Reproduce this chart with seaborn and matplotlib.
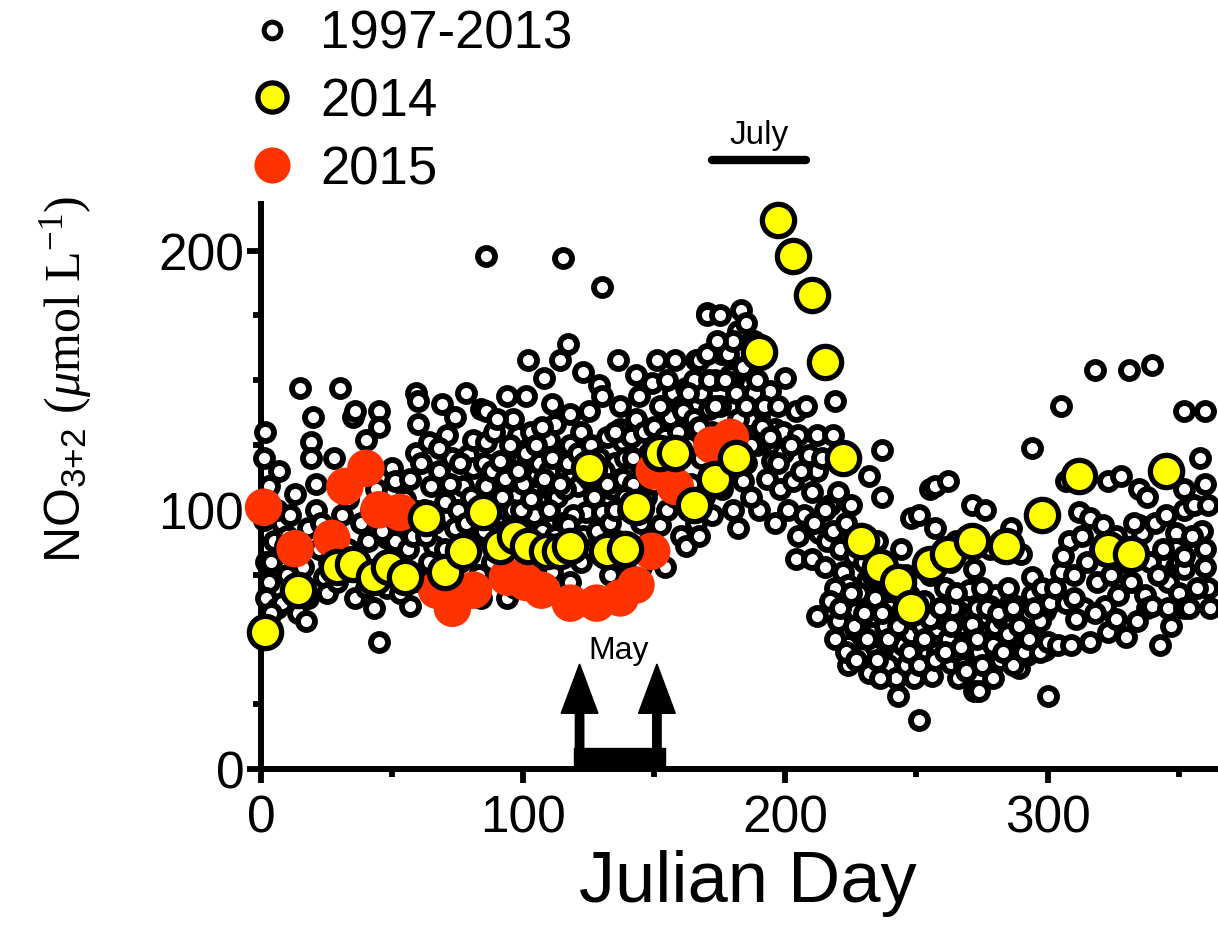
import matplotlib
matplotlib.use("Agg")
import matplotlib.pyplot as plt
import pandas as pd
import seaborn as sns
from matplotlib.lines import Line2D
from matplotlib.patches import FancyArrow, Rectangle
from matplotlib.ticker import MultipleLocator

# ---------------- data ----------------
hist_points = [
    # days 0-25
    (1, 120), (1.5, 130), (3, 109), (1, 96), (5, 88), (2, 80), (3, 72), (2, 66), (6, 62), (8, 95),
    (8, 64), (4, 80), (10, 90), (10, 75), (12, 70), (12, 82), (14, 60), (15, 147), (17, 57), (18, 93),
    (19, 126), (19, 120), (20, 136), (21, 110), (21, 100), (22, 85), (23, 95), (24, 74), (25, 68),
    (4, 60), (6, 100), (7, 115), (9, 86), (11, 98), (13, 106), (16, 78), (18, 66),
    # days 25-60
    (27, 91), (30, 147), (31, 98), (35, 136), (36, 138), (36, 66), (40, 127), (43, 62), (45, 138),
    (45, 132), (45, 49), (48, 89), (50, 116), (51, 111), (51, 88), (56, 85), (57, 112), (57, 63),
    (59, 145), (59, 122), (60, 142), (60, 133), (61, 118), (28, 120), (33, 104), (38, 95), (42, 100),
    (44, 108), (46, 92), (48, 70), (52, 75), (54, 95), (55, 104), (58, 90), (33, 85), (40, 70),
    (47, 80), (53, 68), (58, 100), (26, 80), (29, 72), (38, 78), (41, 88),
    # days 60-90
    (64, 126), (65, 109), (66, 86), (69, 141), (70, 103), (71, 129), (73, 120), (74, 136), (74, 93),
    (77, 109), (79, 121), (81, 127), (81, 116), (84, 139), (86, 198), (86, 138), (86, 126), (86, 109),
    (62, 100), (63, 90), (64, 80), (66, 95), (68, 115), (70, 85), (72, 70), (72, 110), (75, 100),
    (76, 80), (78, 95), (80, 105), (80, 88), (82, 98), (83, 75), (85, 118), (85, 92), (87, 100),
    (88, 80), (88, 115), (89, 130), (90, 95), (67, 68), (75, 64), (84, 66), (61, 72), (78, 145),
    (68, 124), (76, 118),
    # days 90-125
    (91, 119), (94, 144), (94, 66), (95, 111), (98, 129), (99, 120), (101, 144), (102, 158), (105, 113),
    (106, 118), (106, 103), (108, 151), (110, 127), (111, 141), (113, 105), (114, 158), (114, 121),
    (115, 197), (115, 95), (117, 164), (118, 137), (121, 109), (123, 153), (124, 99), (92, 105),
    (93, 92), (95, 125), (96, 100), (97, 80), (100, 110), (100, 95), (102, 88), (103, 130), (104, 98),
    (107, 92), (108, 80), (109, 110), (110, 100), (112, 90), (112, 133), (113, 115), (116, 108),
    (116, 88), (118, 125), (119, 98), (120, 118), (120, 90), (122, 130), (122, 80), (125, 138),
    (125, 112), (97, 70), (104, 72), (111, 76), (118, 72), (123, 90), (96, 135), (107, 132), (90, 135),
    (93, 112), (99, 100), (103, 104), (110, 115), (117, 94), (124, 120),
    (98, 115), (101, 122), (105, 125), (108, 112), (111, 120), (114, 110), (117, 118), (121, 122),
    # days 125-160
    (129, 148), (130, 144), (130, 186), (130, 99), (134, 108), (135, 118), (136, 158), (137, 140),
    (137, 131), (138, 126), (143, 152), (143, 135), (144, 144), (149, 149), (151, 158), (152, 94),
    (154, 78), (156, 136), (158, 158), (160, 90), (126, 125), (127, 105), (128, 92), (131, 115),
    (132, 128), (133, 95), (135, 100), (136, 88), (138, 112), (139, 120), (140, 100), (141, 128),
    (142, 110), (144, 118), (145, 95), (146, 130), (147, 105), (148, 122), (150, 132), (150, 110),
    (152, 140), (153, 120), (154, 128), (155, 100), (157, 145), (157, 115), (159, 130), (160, 140),
    (158, 105), (145, 78), (148, 88), (138, 80), (141, 70), (133, 75),
    (126, 115), (129, 120), (132, 110), (135, 130), (139, 105), (142, 120), (146, 115), (155, 150),
    # days 160-200
    (161, 138), (162, 147), (162, 86), (166, 158), (167, 158), (170, 176), (170, 175), (171, 139),
    (172, 98), (175, 175), (176, 160), (179, 152), (180, 140), (180, 100), (182, 169), (182, 93),
    (183, 177), (184, 111), (186, 148), (190, 136), (190, 100), (191, 126), (194, 146), (195, 119),
    (196, 131), (196, 95), (199, 122), (200, 151), (163, 125), (164, 110), (165, 135), (166, 95),
    (168, 120), (168, 145), (169, 105), (172, 130), (173, 150), (174, 118), (175, 140), (176, 108),
    (177, 130), (178, 160), (178, 122), (181, 145), (183, 130), (184, 155), (185, 118), (186, 135),
    (187, 105), (188, 145), (189, 125), (192, 140), (193, 112), (197, 140), (198, 108), (199, 130),
    (188, 165), (185, 172), (180, 165), (165, 150), (170, 160), (174, 165), (163, 100), (167, 90),
    (160, 122), (163, 145), (167, 132), (171, 150), (173, 140), (177, 150), (179, 128), (182, 135),
    (185, 140), (187, 125), (189, 150), (191, 132), (194, 128), (197, 118),
    # days 200-250
    (203, 111), (204, 138), (204, 81), (205, 129), (205, 90), (209, 121), (210, 107), (210, 81),
    (212, 129), (212, 115), (212, 59), (213, 91), (215, 78), (217, 102), (218, 129), (219, 142),
    (220, 107), (220, 57), (222, 76), (224, 71), (224, 48), (224, 40), (225, 102), (227, 61),
    (231, 73), (232, 113), (232, 37), (233, 59), (236, 48), (237, 123), (237, 105), (243, 44),
    (243, 28), (248, 97), (251, 19), (255, 108), (201, 100), (202, 125), (206, 115), (207, 98),
    (208, 140), (211, 95), (214, 120), (215, 100), (216, 88), (218, 92), (219, 70), (221, 85),
    (223, 95), (226, 82), (228, 68), (229, 52), (230, 80), (233, 45), (234, 66), (235, 88), (238, 55),
    (239, 40), (240, 62), (241, 50), (242, 35), (244, 58), (245, 48), (246, 40), (247, 67), (248, 52),
    (249, 35), (250, 45), (236, 35), (238, 72), (226, 55), (229, 44), (244, 85), (246, 75),
    (217, 65), (219, 50), (221, 62), (223, 45), (225, 68), (227, 42), (230, 60), (231, 50), (233, 75),
    (235, 42), (237, 60), (239, 50), (241, 70), (243, 55), (245, 62), (247, 45), (249, 58),
    # days 250-300
    (251, 98), (252, 55), (254, 44), (256, 36), (257, 109), (257, 93), (258, 54), (262, 111), (263, 80),
    (263, 41), (266, 61), (266, 35), (269, 50), (270, 69), (271, 102), (272, 77), (272, 30), (274, 30),
    (276, 100), (276, 59), (276, 40), (280, 67), (281, 51), (282, 42), (288, 63), (289, 48), (289, 39),
    (294, 124), (294, 74), (294, 67), (294, 54), (299, 61), (299, 46), (300, 28), (253, 65),
    (255, 75), (258, 45), (260, 58), (261, 70), (262, 50), (264, 62), (265, 45), (267, 55), (268, 40),
    (270, 58), (271, 48), (273, 62), (274, 45), (275, 70), (277, 52), (278, 63), (279, 35), (280, 55),
    (283, 58), (284, 47), (285, 70), (286, 55), (287, 40), (290, 58), (291, 52), (292, 44), (293, 60),
    (296, 50), (297, 57), (298, 70), (259, 82), (265, 88), (278, 85), (290, 83), (286, 93),
    (251, 40), (253, 50), (255, 58), (257, 42), (259, 62), (261, 45), (263, 55), (265, 68), (267, 47),
    (269, 38), (271, 56), (273, 50), (275, 40), (277, 62), (279, 48), (281, 60), (283, 45), (285, 52),
    (287, 62), (289, 55), (291, 45), (293, 50), (295, 62), (297, 45),
    # days 300-365
    (300, 49), (301, 64), (304, 48), (305, 140), (305, 76), (307, 111), (307, 64), (308, 88),
    (309, 48), (312, 99), (314, 62), (316, 97), (316, 49), (318, 154), (319, 72), (321, 94), (322, 63),
    (323, 111), (323, 53), (327, 67), (328, 113), (330, 51), (331, 154), (335, 108), (335, 94),
    (336, 91), (337, 67), (338, 105), (338, 62), (340, 156), (340, 63), (343, 48), (346, 72), (346, 62),
    (349, 91), (349, 85), (349, 78), (350, 80), (350, 68), (352, 138), (352, 108), (352, 100),
    (352, 77), (352, 62), (352, 82), (354, 62), (356, 102), (360, 138), (360, 110), (361, 102),
    (359, 92), (360, 85), (360, 78), (361, 70), (362, 62), (303, 70), (306, 82), (310, 75), (311, 58),
    (313, 90), (315, 80), (318, 60), (320, 85), (324, 75), (326, 90), (329, 80), (332, 72), (333, 95),
    (334, 57), (339, 80), (341, 95), (342, 75), (344, 85), (345, 98), (347, 55), (355, 90), (357, 70),
    (358, 120), (310, 66), (326, 58),
]

y2014_day = [1.5, 14, 29, 35, 43, 49, 55, 63, 70, 77, 84.5, 91, 97, 102, 109, 114, 118, 125, 132,
             139, 143, 152, 158, 165, 173, 181, 190, 197, 203, 210, 215, 222, 229, 236, 243, 248,
             255, 262, 271, 284, 298, 312, 323, 332, 345]
y2014_val = [53, 69, 78, 79, 74, 78, 74, 97, 76, 84, 99, 86, 90, 86, 84, 84, 86, 116, 84,
             85, 101, 122, 122, 102, 112, 120, 161, 212, 198, 183, 157, 120, 88, 78, 72, 62,
             79, 83, 88, 86, 98, 113, 85, 83, 115]

y2015_day = [1, 13, 27, 32, 40, 45, 53, 67, 73, 81, 94, 101, 107, 118, 128, 137, 143, 149, 150,
             158, 172, 179]
y2015_val = [101, 85, 89, 109, 116, 100, 99, 69, 62, 69, 74, 72, 69, 64, 64, 66, 71, 84, 115,
             109, 125, 128]

legend_labels = ["1997-2013", "2014", "2015"]
x_major = [0, 100, 200, 300]
y_major = [0, 100, 200]

# annotation spans (Julian day)
july_span = (172, 208)
may_span = (121.5, 151)

# ---------------- styling ----------------
sns.set_style("ticks")
plt.rcParams["font.family"] = ["Liberation Sans", "DejaVu Sans"]
plt.rcParams["mathtext.fontset"] = "custom"
plt.rcParams["mathtext.rm"] = "Liberation Serif"
plt.rcParams["mathtext.it"] = "Liberation Serif:italic"
plt.rcParams["mathtext.sf"] = "Liberation Sans"
for key in ["text.color", "axes.labelcolor", "xtick.color", "ytick.color", "axes.edgecolor"]:
    plt.rcParams[key] = "black"

RED = "#FF3300"
YEL = "#FFFF00"

hist_df = pd.DataFrame(hist_points, columns=["day", "val"])
df14 = pd.DataFrame({"day": y2014_day, "val": y2014_val})
df15 = pd.DataFrame({"day": y2015_day, "val": y2015_val})

fig = plt.figure(figsize=(12.18, 9.45), dpi=100)
ax = fig.add_axes([261 / 1218, 1 - 770 / 945, 957 / 1218, 565 / 945])

sns.scatterplot(data=hist_df, x="day", y="val", ax=ax, s=150, color="white",
                edgecolor="black", linewidth=4.2, zorder=3, clip_on=False, legend=False)
sns.scatterplot(data=df15, x="day", y="val", ax=ax, s=730, color=RED,
                edgecolor="none", linewidth=0, zorder=4, clip_on=False, legend=False)
sns.scatterplot(data=df14, x="day", y="val", ax=ax, s=540, color=YEL,
                edgecolor="black", linewidth=3.8, zorder=5, clip_on=False, legend=False)

ax.set_xlim(0, 365)
ax.set_ylim(0, 218)
ax.set_xticks(x_major)
ax.set_yticks(y_major)
ax.xaxis.set_minor_locator(MultipleLocator(50))
ax.yaxis.set_minor_locator(MultipleLocator(25))
ax.tick_params(axis="both", which="major", length=10, width=4.2, labelsize=37, direction="out",
               colors="black")
ax.tick_params(axis="both", which="minor", length=6, width=4.2, direction="out", colors="black")
ax.tick_params(axis="x", which="major", pad=8)
ax.tick_params(axis="y", which="major", pad=2)
sns.despine(ax=ax)
for side in ["left", "bottom"]:
    ax.spines[side].set_linewidth(4.3)
    ax.spines[side].set_color("black")
    ax.spines[side].set_zorder(2)
ax.set_xlabel("")
ax.set_ylabel("")

# July bar + label
ax.plot(list(july_span), [235, 235], color="black", lw=6, solid_capstyle="round",
        clip_on=False, zorder=6)
ax.text(sum(july_span) / 2, 245, "July", ha="center", va="center", fontsize=24, clip_on=False)

# May arrows + bracket
for xd in may_span:
    ax.add_patch(FancyArrow(xd, 2, 0, 38.5, width=3.2, head_width=14, head_length=19,
                            length_includes_head=True, color="black", zorder=6))
ax.add_patch(Rectangle((may_span[0] - 2, 1.5), may_span[1] - may_span[0] + 5, 6.5,
                       color="black", zorder=6))
ax.text(sum(may_span) / 2, 46, "May", ha="center", va="center", fontsize=23, zorder=7)

# axis titles
fig.text(748 / 1218, 1 - 884 / 945, "Julian Day", ha="center", va="center", fontsize=52)
fig.text(66 / 1218, 1 - 379 / 945,
         r"NO$_{\mathsf{3{+}2}}$ $\mathrm{(}\mu\mathrm{mol\ L^{-1})}$",
         rotation=90, ha="center", va="center", fontsize=36)

# legend
handles = [
    Line2D([], [], ls="", marker="o", markersize=12, markerfacecolor="white",
           markeredgecolor="black", markeredgewidth=3.6),
    Line2D([], [], ls="", marker="o", markersize=21, markerfacecolor=YEL,
           markeredgecolor="black", markeredgewidth=3.8),
    Line2D([], [], ls="", marker="o", markersize=26, markerfacecolor=RED,
           markeredgecolor=RED, markeredgewidth=0),
]
fig.legend(handles, legend_labels, loc="upper left", bbox_to_anchor=(246 / 1218, 1 - 10 / 945),
           frameon=False, fontsize=38, handlelength=1.0, handletextpad=0.4,
           labelspacing=0.34, borderpad=0, borderaxespad=0)

fig.savefig("out.png", dpi=100)
